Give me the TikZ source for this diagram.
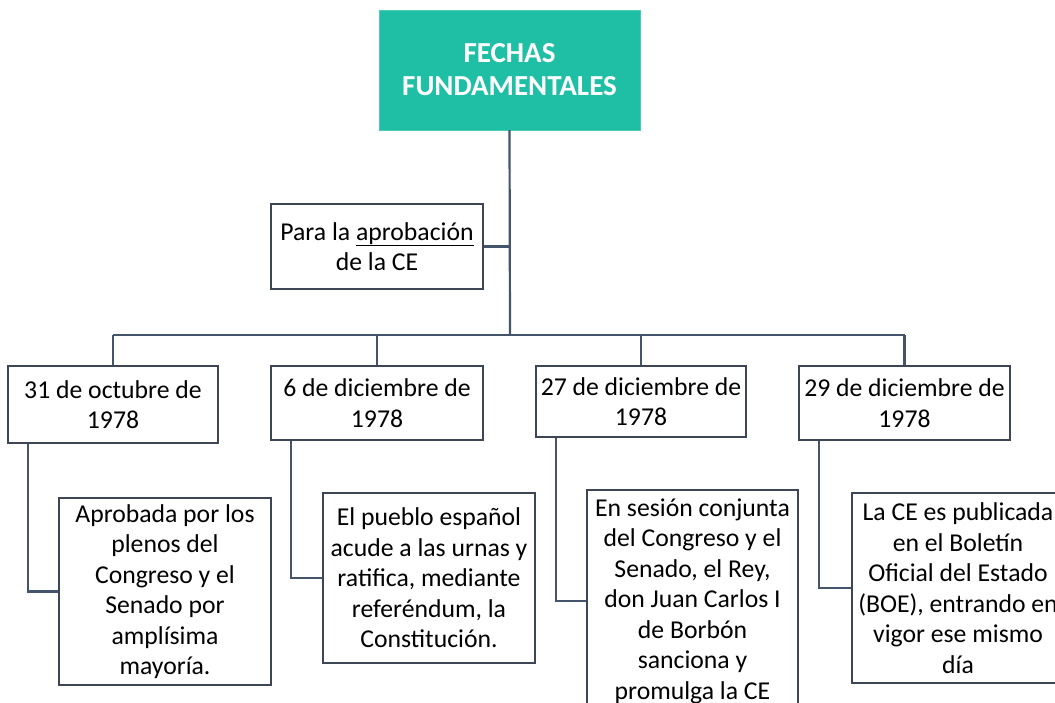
\documentclass[tikz,border=0pt]{standalone}
\usepackage{fontspec}
\setmainfont{Carlito}
\usepackage{tikz}
\usetikzlibrary{positioning}
\usetikzlibrary{calc}

\definecolor{tealbox}{RGB}{31,191,166}
\definecolor{linkcol}{RGB}{68,84,106}
\definecolor{edgecol}{RGB}{60,70,84}

\begin{document}
\begin{tikzpicture}[x=1pt,y=-1pt,
  titlebox/.style={draw=tealbox!80!white, fill=tealbox, text=white, font=\bfseries\fontsize{29}{33}\selectfont,
    align=center, minimum width=261pt, minimum height=120pt, inner sep=0pt},
  datebox/.style={draw=edgecol, line width=1.6pt, fill=white, align=center, inner sep=0pt,
    font=\fontsize{25.7}{30.5}\selectfont},
  link/.style={draw=linkcol, line width=2.2pt}]

\useasboundingbox (0,0) rectangle (1055,703);

% Draw title and first box
\node[titlebox] (title) at (509.5,70) {FECHAS\\FUNDAMENTALES};
\node[datebox, minimum width=212pt, minimum height=85pt] (aprob) at (377,246.5) {Para la \underline{aprobación}\\de la CE};

% Draw the dates
\node[datebox, minimum width=210pt, minimum height=77pt] (d1) at (113,404.5) {31 de octubre de\\1978};
\node[datebox, minimum width=212pt, minimum height=74pt] (d2) at (377,403) {6 de diciembre de\\1978};
\node[datebox, minimum width=210pt, minimum height=71pt] (d3) at (641,401.5) {27 de diciembre de\\1978};
\node[datebox, minimum width=211pt, minimum height=74pt] (d4) at (904.5,403) {29 de diciembre de\\1978};

% Draw the descriptions
\node[datebox, minimum width=212pt, minimum height=187pt] (t1) at (165,591.5) {Aprobada por los\\plenos del\\Congreso y el\\Senado por\\amplísima\\mayoría.};
\node[datebox, minimum width=212pt, minimum height=170pt] (t2) at (429,578) {El pueblo español\\acude a las urnas y\\ratifica, mediante\\referéndum, la\\Constitución.};
\node[datebox, minimum width=211pt, minimum height=222pt] (t3) at (692.5,601) {En sesión conjunta\\del Congreso y el\\Senado, el Rey,\\don Juan Carlos I\\de Borbón\\sanciona y\\promulga la CE};
\node[datebox, minimum width=212pt, minimum height=190pt] (t4) at (958,588) {La CE es publicada\\en el Boletín\\Oficial del Estado\\(BOE), entrando en\\vigor ese mismo\\día};

% Draw the tree
\coordinate (bus) at (510,335);
\draw[link] (title.south) -- (bus);
\draw[link] (aprob.east) -- (aprob.east -| bus);
\draw[link] (d1.north |- bus) -- (d4.north |- bus);
\foreach \d in {d1,d2,d3,d4}
  \draw[link] (\d.north |- bus) -- (\d.north);

% Draw the elbows
\foreach \d/\t in {d1/t1,d2/t2,d3/t3,d4/t4}
  \draw[link] ([xshift=21pt]\d.south west) |- (\t.west);

\end{tikzpicture}
\end{document}
